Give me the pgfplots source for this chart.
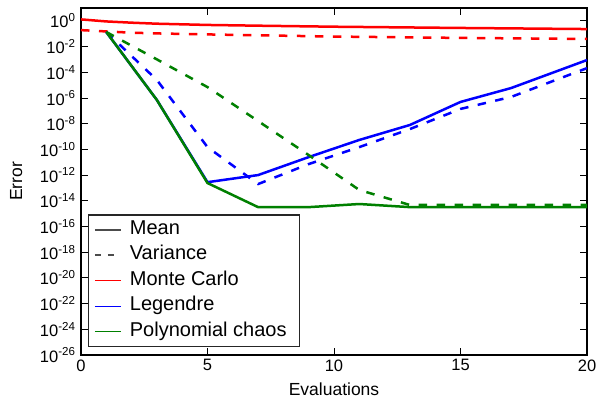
\documentclass[border=0pt]{standalone}
\usepackage{fontspec}
\setmainfont{Liberation Sans}
\usepackage{pgfplots}
\usepackage{pgfplotstable}
\pgfplotsset{compat=1.18}

% Monte Carlo
\pgfplotstableread{
x y
0 1.3
1 0.9
2 0.72
3 0.6
5 0.48
7 0.42
10 0.35
15 0.28
20 0.23
}\mcmean
\pgfplotstableread{
x y
0 0.19
1 0.15
2 0.12
3 0.105
5 0.088
7 0.075
10 0.06
15 0.047
20 0.039
}\mcvar
% Legendre
\pgfplotstableread{
x y
1 0.135
3 6.9e-7
5 2.8e-13
7 1e-12
9 2.5e-11
11 5.4e-10
13 7.9e-9
15 4.9e-7
17 5.9e-6
20 8.9e-4
}\lgmean
\pgfplotstableread{
x y
1 0.135
3 2.5e-5
5 1.5e-10
7 2e-13
9 7.2e-12
11 1.5e-10
13 3.8e-9
15 1.4e-7
17 1.2e-6
20 2.1e-4
}\lgvar
% Polynomial chaos
\pgfplotstableread{
x y
1 0.135
3 6.9e-7
5 2.4e-13
7 3.2e-15
9 3.2e-15
11 5.6e-15
13 3.2e-15
15 3.2e-15
17 3.2e-15
19 3.2e-15
20 3.2e-15
}\pcmean
\pgfplotstableread{
x y
1 0.135
3 1e-3
5 7e-6
7 1.6e-8
9 3.6e-11
11 6.9e-14
13 4.7e-15
15 4.7e-15
17 4.7e-15
19 4.7e-15
20 4.7e-15
}\pcvar

\definecolor{mplgreen}{rgb}{0,0.5,0}

\begin{document}
\begin{tikzpicture}
\path[use as bounding box, fill=white] (-81pt,-46pt) rectangle (516pt,355pt);
\begin{axis}[
  scale only axis, width=506pt, height=347pt,
  ymode=log, xmin=0, xmax=20, ymin=1e-26, ymax=1e1,
  xtick={0,5,10,15,20}, xticklabels={0,5,10,15,20},
  ytick={1e-26,1e-24,1e-22,1e-20,1e-18,1e-16,1e-14,1e-12,1e-10,1e-8,1e-6,1e-4,1e-2,1},
  yticklabels={10\textsuperscript{-26},10\textsuperscript{-24},10\textsuperscript{-22},10\textsuperscript{-20},10\textsuperscript{-18},10\textsuperscript{-16},10\textsuperscript{-14},10\textsuperscript{-12},10\textsuperscript{-10},10\textsuperscript{-8},10\textsuperscript{-6},10\textsuperscript{-4},10\textsuperscript{-2},10\textsuperscript{0}},
  yminorticks=false, xminorticks=false,
  tick align=inside, major tick length=7pt,
  tick style={black, line width=0.9pt},
  axis line style={line width=1.2pt},
  ticklabel style={font=\fontsize{16.5}{18}\selectfont},
  xticklabel style={yshift=-1pt},
  yticklabel style={xshift=-2pt},
  label style={font=\fontsize{17.5}{20}\selectfont},
  xlabel=Evaluations, ylabel=Error,
  xlabel style={at={(axis description cs:0.5,-0.098)}, anchor=center},
  ylabel style={at={(axis description cs:-0.128,0.5)}, anchor=center},
  legend cell align=left,
  legend image code/.code={\draw[#1] (0pt,0pt) -- (26pt,0pt);},
  legend style={at={(axis description cs:0.014,0.023)}, anchor=south west,
    draw=black!85, line width=1.2pt, fill=white,
    font=\fontsize{20}{22}\selectfont,
    inner xsep=5pt, inner ysep=2pt,
    nodes={text height=14pt, text depth=4.5pt, inner ysep=3.5pt, inner xsep=8pt},
    row sep=0pt},
]
\addlegendimage{black!70, line width=2.2pt}
\addlegendentry{Mean}
\addlegendimage{black!70, line width=2.2pt, dash pattern=on 6pt off 7pt}
\addlegendentry{Variance}
\addlegendimage{red, line width=1.1pt}
\addlegendentry{Monte Carlo}
\addlegendimage{blue, line width=1.1pt}
\addlegendentry{Legendre}
\addlegendimage{mplgreen, line width=1.1pt}
\addlegendentry{Polynomial chaos}

\addplot[red, line width=2.5pt, forget plot] table {\mcmean};
\addplot[red, line width=2.5pt, dash pattern=on 8.5pt off 9.5pt, forget plot] table {\mcvar};
\addplot[blue, line width=2.5pt, forget plot] table {\lgmean};
\addplot[blue, line width=2.5pt, dash pattern=on 8.5pt off 9.5pt, forget plot] table {\lgvar};
\addplot[mplgreen, line width=2.5pt, forget plot] table {\pcmean};
\addplot[mplgreen, line width=2.5pt, dash pattern=on 8.5pt off 9.5pt, forget plot] table {\pcvar};
\end{axis}
\end{tikzpicture}
\end{document}
